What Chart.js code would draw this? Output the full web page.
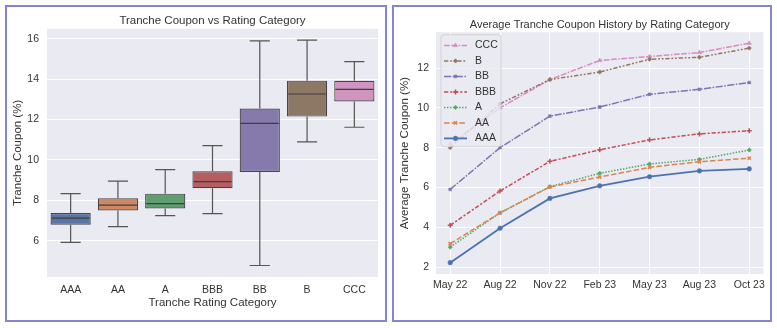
<!DOCTYPE html>
<html>
<head>
<meta charset="utf-8">
<script src="https://cdn.jsdelivr.net/npm/chart.js@4.4.1/dist/chart.umd.min.js"></script>
<style>
  html, body { margin: 0; padding: 0; background: #fff; }
  .panel { position: absolute; border: 2px solid #8484d2; box-sizing: border-box; }
  #p1 { left: 5px; top: 5px; width: 382px; height: 317px; }
  #p2 { left: 392px; top: 5px; width: 380px; height: 317px; }
  canvas { display: block; }
</style>
</head>
<body>
<div class="panel" id="p1"><canvas id="boxChart" width="378" height="313"></canvas></div>
<div class="panel" id="p2"><canvas id="lineChart" width="376" height="313"></canvas></div>
<script>
// box plot: tranche coupon by rating
const ratings = ['AAA', 'AA', 'A', 'BBB', 'BB', 'B', 'CCC'];
const whiskerLow = [5.92, 6.70, 7.24, 7.34, 4.77, 10.90, 11.62];
const q1 = [6.79, 7.50, 7.60, 8.60, 9.40, 12.15, 12.90];
const medians = [7.12, 7.76, 7.84, 8.93, 11.81, 13.27, 13.50];
const q3 = [7.37, 8.10, 8.33, 9.44, 12.55, 13.93, 13.92];
const whiskerHigh = [8.33, 8.95, 9.52, 10.71, 15.90, 15.94, 14.87];
const boxTicks = [6, 8, 10, 12, 14, 16];

// average coupon history
const months = ['May 22', 'Aug 22', 'Nov 22', 'Feb 23', 'May 23', 'Aug 23', 'Oct 23'];
const couponAAA = [2.22, 3.95, 5.45, 6.08, 6.54, 6.83, 6.93];
const couponAA = [3.17, 4.72, 6.03, 6.52, 7.01, 7.29, 7.47];
const couponA = [3.00, 4.72, 6.04, 6.71, 7.18, 7.41, 7.88];
const couponBBB = [4.10, 5.82, 7.31, 7.89, 8.39, 8.69, 8.85];
const couponBB = [5.90, 8.00, 9.58, 10.04, 10.68, 10.93, 11.27];
const couponB = [8.00, 10.20, 11.42, 11.80, 12.44, 12.54, 13.00];
const couponCCC = [8.20, 10.00, 11.42, 12.38, 12.58, 12.78, 13.25];
const lineTicks = [2, 4, 6, 8, 10, 12];

const boxColors = ['#5975a4', '#cc8963', '#5f9e6e', '#b55d60', '#857aab', '#8d7866', '#d095bf'];
const textColor = '#333';

Chart.defaults.font.family = '"Liberation Sans", Arial, sans-serif';
Chart.defaults.color = textColor;

const plotBg = {
  id: 'plotBg',
  beforeDraw(chart) {
    const { ctx, chartArea: a } = chart;
    ctx.save();
    ctx.fillStyle = '#eaeaf2';
    ctx.fillRect(a.left, a.top, a.width, a.height);
    ctx.restore();
  }
};

// whiskers, caps and medians on top of the floating bars
const whiskers = {
  id: 'whiskers',
  afterDatasetsDraw(chart) {
    const ctx = chart.ctx;
    const y = chart.scales.y;
    const bars = chart.getDatasetMeta(0).data;
    ctx.save();
    ctx.lineWidth = 1.2;
    bars.forEach((bar, i) => {
      const x = bar.x;
      const half = bar.width / 2;
      const cap = bar.width / 4;
      const yHi = y.getPixelForValue(whiskerHigh[i]);
      const yLo = y.getPixelForValue(whiskerLow[i]);
      ctx.strokeStyle = '#555';
      ctx.beginPath();
      ctx.moveTo(x, y.getPixelForValue(q3[i]));
      ctx.lineTo(x, yHi);
      ctx.moveTo(x, y.getPixelForValue(q1[i]));
      ctx.lineTo(x, yLo);
      ctx.moveTo(x - cap, yHi);
      ctx.lineTo(x + cap, yHi);
      ctx.moveTo(x - cap, yLo);
      ctx.lineTo(x + cap, yLo);
      ctx.stroke();
      const ym = y.getPixelForValue(medians[i]);
      ctx.strokeStyle = '#3f3f3f';
      ctx.beginPath();
      ctx.moveTo(x - half + 1, ym);
      ctx.lineTo(x + half - 1, ym);
      ctx.stroke();
    });
    ctx.restore();
  }
};

new Chart(document.getElementById('boxChart'), {
  type: 'bar',
  data: {
    labels: ratings,
    datasets: [{
      data: ratings.map((r, i) => [q1[i], q3[i]]),
      backgroundColor: boxColors,
      borderColor: '#454545',
      borderWidth: 1.2,
      borderSkipped: false,
      barPercentage: 0.85,
      categoryPercentage: 1
    }]
  },
  options: {
    responsive: false,
    animation: false,
    devicePixelRatio: 1,
    layout: { padding: { left: 0, right: 7, top: 0, bottom: 0 } },
    plugins: {
      legend: { display: false },
      tooltip: { enabled: false },
      title: {
        display: true,
        fullSize: false,
        text: 'Tranche Coupon vs Rating Category',
        color: textColor,
        font: { size: 11.5, weight: 'normal' },
        padding: { top: 7, bottom: 1 }
      }
    },
    scales: {
      x: {
        grid: { display: false, drawTicks: false },
        border: { display: false },
        ticks: { color: textColor, font: { size: 10.5 }, padding: 7, maxRotation: 0 },
        title: {
          display: true,
          text: 'Tranche Rating Category',
          color: textColor,
          font: { size: 11.5 },
          padding: { top: 0, bottom: 10 }
        },
        afterFit(s) { s.height = 43; }
      },
      y: {
        min: 4.2,
        max: 16.5,
        grid: { color: '#ffffff', lineWidth: 1, drawTicks: false },
        border: { display: false },
        ticks: { color: textColor, font: { size: 10.5 }, padding: 8 },
        afterBuildTicks(s) { s.ticks = boxTicks.map(v => ({ value: v })); },
        title: {
          display: true,
          text: 'Tranche Coupon (%)',
          color: textColor,
          font: { size: 11.5 },
          padding: { top: 4, bottom: 0 }
        },
        afterFit(s) { s.width = 40; }
      }
    }
  },
  plugins: [plotBg, whiskers]
});

const series = [
  { label: 'AAA', values: couponAAA, color: '#4c72b0', dash: [], width: 1.8, marker: 'circle', r: 2.3 },
  { label: 'AA', values: couponAA, color: '#dd8452', dash: [5.5, 2.2], width: 1.5, marker: 'crossRot', r: 2.3 },
  { label: 'A', values: couponA, color: '#55a868', dash: [1.5, 1.5], width: 1.5, marker: 'rectRot', r: 2.2 },
  { label: 'BBB', values: couponBBB, color: '#c44e52', dash: [4.3, 1.8, 2.2, 1.8], width: 1.5, marker: 'cross', r: 2.5 },
  { label: 'BB', values: couponBB, color: '#8172b3', dash: [7.2, 1.5, 1.5, 1.5], width: 1.5, marker: 'rect', r: 2 },
  { label: 'B', values: couponB, color: '#937860', dash: [4.3, 1.8, 1.8, 1.8, 1.8, 1.8], width: 1.5, marker: 'rectRot', r: 2.2 },
  { label: 'CCC', values: couponCCC, color: '#da8bc3', dash: [5.8, 1.5, 5.8, 1.5, 1.5, 1.5], width: 1.5, marker: 'triangle', r: 2.5 }
];

// legend drawn inside the plot, over the lines (like matplotlib)
const insideLegend = {
  id: 'insideLegend',
  afterDatasetsDraw(chart) {
    const { ctx, chartArea: a } = chart;
    const x0 = a.left + 5, y0 = a.top + 2.5, w = 60, h = 112;
    ctx.save();
    ctx.fillStyle = 'rgba(234,234,242,0.8)';
    ctx.strokeStyle = 'rgba(204,204,204,0.8)';
    ctx.lineWidth = 1;
    ctx.beginPath();
    ctx.roundRect(x0, y0, w, h, 3);
    ctx.fill();
    ctx.stroke();
    const items = chart.data.datasets.slice().reverse();
    items.forEach((ds, k) => {
      const cy = y0 + 10.7 + k * 15.5;
      ctx.strokeStyle = ds.borderColor;
      ctx.lineWidth = ds.borderWidth;
      ctx.setLineDash(ds.borderDash);
      ctx.beginPath();
      ctx.moveTo(x0 + 3, cy);
      ctx.lineTo(x0 + 26, cy);
      ctx.stroke();
      ctx.setLineDash([]);
      ctx.fillStyle = ds.borderColor;
      ctx.lineWidth = ds.pointBorderWidth;
      Chart.helpers.drawPoint(ctx, { pointStyle: ds.pointStyle, radius: ds.pointRadius, borderWidth: ds.pointBorderWidth }, x0 + 14.5, cy);
      ctx.fillStyle = textColor;
      ctx.font = '10.5px "Liberation Sans", Arial, sans-serif';
      ctx.textBaseline = 'middle';
      ctx.textAlign = 'left';
      ctx.fillText(ds.label, x0 + 34, cy);
    });
    ctx.restore();
  }
};

new Chart(document.getElementById('lineChart'), {
  type: 'line',
  data: {
    datasets: series.map(s => ({
      label: s.label,
      data: s.values.map((v, i) => ({ x: i, y: v })),
      borderColor: s.color,
      backgroundColor: s.color,
      borderWidth: s.width,
      borderDash: s.dash,
      tension: 0,
      pointStyle: s.marker,
      pointRadius: s.r,
      pointBackgroundColor: s.color,
      pointBorderColor: s.color,
      pointBorderWidth: (s.marker === 'cross' || s.marker === 'crossRot') ? 1.5 : 0.5
    }))
  },
  options: {
    responsive: false,
    animation: false,
    devicePixelRatio: 1,
    layout: { padding: { left: 0, right: 4, top: 0, bottom: 0 } },
    plugins: {
      legend: { display: false },
      tooltip: { enabled: false },
      title: {
        display: true,
        fullSize: false,
        text: 'Average Tranche Coupon History by Rating Category',
        color: textColor,
        font: { size: 11, weight: 'normal' },
        padding: { top: 11, bottom: 1 }
      }
    },
    scales: {
      x: {
        type: 'linear',
        min: -0.285,
        max: 6.285,
        grid: { color: '#ffffff', lineWidth: 1, drawTicks: false },
        border: { display: false },
        afterBuildTicks(s) { s.ticks = months.map((m, i) => ({ value: i })); },
        ticks: {
          color: textColor,
          font: { size: 10.5 },
          padding: 5,
          maxRotation: 0,
          autoSkip: false,
          callback: v => months[v]
        },
        afterFit(s) { s.height = 46; }
      },
      y: {
        min: 1.65,
        max: 13.8,
        grid: { color: '#ffffff', lineWidth: 1, drawTicks: false },
        border: { display: false },
        ticks: { color: textColor, font: { size: 10.5 }, padding: 7 },
        afterBuildTicks(s) { s.ticks = lineTicks.map(v => ({ value: v })); },
        title: {
          display: true,
          text: 'Average Tranche Coupon (%)',
          color: textColor,
          font: { size: 11.5 },
          padding: { top: 4, bottom: 0 }
        },
        afterFit(s) { s.width = 42; }
      }
    }
  },
  plugins: [plotBg, insideLegend]
});
</script>
</body>
</html>
